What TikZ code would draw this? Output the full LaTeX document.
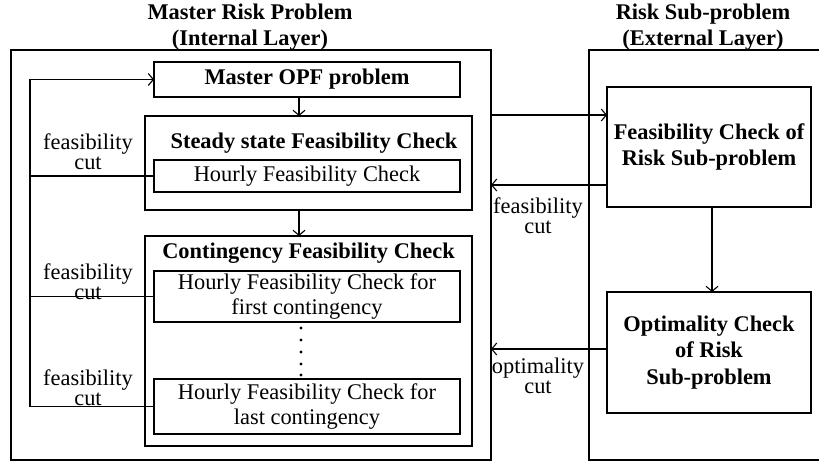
\documentclass[tikz,border=0pt]{standalone}
\usepackage{fontspec}
\setmainfont{Liberation Serif}
\usetikzlibrary{arrows.meta}
\begin{document}
\begin{tikzpicture}[x=1pt,y=-1pt,
  every node/.style={inner sep=0pt, outer sep=0pt},
  thinbox/.style={draw, line width=1.1pt, align=center, font=\fontsize{22.4}{25}\selectfont},
  thickbox/.style={draw, line width=2.6pt},
  boldtext/.style={font=\fontsize{22.4}{26}\selectfont\bfseries, align=center},
  cutlabel/.style={font=\fontsize{22.4}{20}\selectfont, align=center},
  link/.style={line width=1.1pt},
  arrow/.style={link, -{Straight Barb[length=5pt,width=12pt]}}]
\clip (0,0) rectangle (819,463);

% layer titles
\node[boldtext] (titleL) at (250,27) {Master Risk Problem\\(Internal Layer)};
\node[boldtext] (titleR) at (703,27) {Risk Sub-problem\\(External Layer)};

% outer layers
\node[thickbox, minimum width=480pt, minimum height=410pt] (outerL) at (251,255) {};
\node[thickbox, minimum width=241pt, minimum height=410pt] (outerR) at (709.5,255) {};

% internal layer
\node[thinbox, minimum width=306pt, minimum height=35pt, font=\fontsize{22.4}{25}\selectfont\bfseries] (opf) at (307,79.5) {Master OPF problem};
\node[thickbox, minimum width=327pt, minimum height=94pt] (steady) at (308.5,163) {};
\node[boldtext] (steadyT) at (314,143) {Steady state Feasibility Check};
\node[thinbox, minimum width=306pt, minimum height=32pt] (hourly) at (307,176) {Hourly Feasibility Check};

\node[thickbox, minimum width=327pt, minimum height=210pt] (cont) at (308.5,341) {};
\node[boldtext] (contT) at (308.5,253) {Contingency Feasibility Check};
\node[thinbox, minimum width=306pt, minimum height=51pt] (first) at (307,296.5) {Hourly Feasibility Check for\\first contingency};
\node[thinbox, minimum width=306pt, minimum height=55pt] (last) at (307,406.5) {Hourly Feasibility Check for\\last contingency};
\foreach \y in {328,340,352,364,375} \fill (301,\y) circle (1.6);

% external layer
\node[thinbox, minimum width=204pt, minimum height=120pt, font=\fontsize{22.4}{26}\selectfont\bfseries] (feas) at (709,147) {Feasibility Check of\\Risk Sub-problem};
\node[thinbox, minimum width=204pt, minimum height=121pt, font=\fontsize{22.4}{26.5}\selectfont\bfseries] (opt) at (709,352.5) {Optimality Check\\of Risk\\Sub-problem};

% helper coordinates for connector positions
\coordinate (loopx) at (30,0);
\coordinate (downx) at (299,0);
\coordinate (riskx) at (712,0);
\coordinate (fwd) at (0,115);
\coordinate (back) at (0,185);
\coordinate (optback) at (0,349);

% vertical flow in the internal layer
\draw[arrow] (opf.south -| downx) -- (steady.north -| downx);
\draw[arrow] (steady.south -| downx) -- (cont.north -| downx);

% feasibility cuts back to the master problem
\draw[link] (hourly.west) -- (hourly.west -| loopx);
\draw[link] (first.west) -- (first.west -| loopx);
\draw[arrow] (last.west) -- (last.west -| loopx) -- (opf.west -| loopx) -- (opf.west);
\node[cutlabel] (cut1) at (88,152) {feasibility\\cut};
\node[cutlabel] (cut2) at (88,282) {feasibility\\cut};
\node[cutlabel] (cut3) at (88,388) {feasibility\\cut};

% exchange between the layers
\draw[arrow] (outerL.east |- fwd) -- (feas.west |- fwd);
\draw[arrow] (feas.west |- back) -- (outerL.east |- back);
\draw[arrow] (feas.south -| riskx) -- (opt.north -| riskx);
\draw[arrow] (opt.west |- optback) -- (outerL.east |- optback);
\node[cutlabel] (cut4) at (538,216) {feasibility\\cut};
\node[cutlabel] (cut5) at (538,376) {optimality\\cut};
\end{tikzpicture}
\end{document}
